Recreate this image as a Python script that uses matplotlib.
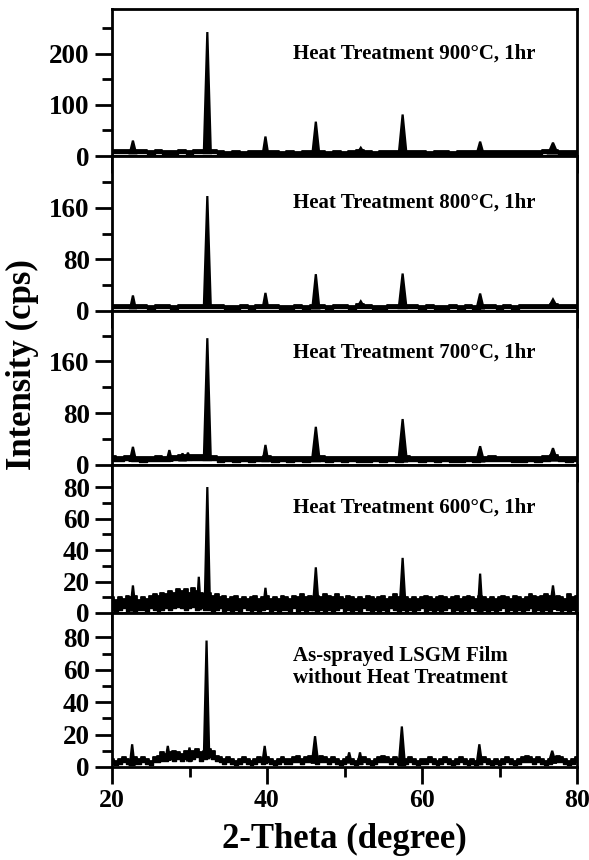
import numpy as np
import matplotlib
matplotlib.use("Agg")
import matplotlib.pyplot as plt
from matplotlib.ticker import FixedLocator, MultipleLocator

plt.rcParams['font.family'] = ['Liberation Serif', 'DejaVu Serif']
plt.rcParams['font.weight'] = 'bold'

# 2-theta grids for the background level
two_theta = np.arange(20, 81, 1)          # 1 degree steps (annealed films)
two_theta_fine = np.arange(20, 80.5, 0.5)  # 0.5 degree steps (noisy films)

labels = ["Heat Treatment 900°C, 1hr",
          "Heat Treatment 800°C, 1hr",
          "Heat Treatment 700°C, 1hr",
          "Heat Treatment 600°C, 1hr",
          "As-sprayed LSGM Film\nwithout Heat Treatment"]

# background band (upper / lower edge), cps
bg_hi_900 = [12, 11, 12, 11, 11, 10, 11, 10, 10, 11, 10, 12, 12, 11, 9, 8, 9, 8, 9, 9,
             10, 9, 8, 9, 8, 9, 9, 9, 8, 9, 8, 9, 11, 9, 8, 9, 9, 9, 10, 9,
             9, 8, 9, 9, 8, 9, 9, 9, 10, 9, 9, 9, 10, 9, 9, 10, 11, 12, 10, 9, 10]
bg_lo_900 = [5, 5, 6, 5, 5, 4, 5, 4, 4, 5, 4, 5, 6, 5, 3, 3, 3, 2, 3, 3,
             4, 3, 2, 3, 2, 3, 3, 3, 2, 3, 2, 3, 4, 3, 2, 3, 3, 3, 4, 3,
             3, 2, 3, 3, 2, 3, 3, 3, 4, 3, 3, 3, 4, 3, 3, 4, 5, 5, 4, 3, 4]

bg_hi_800 = [9, 10, 10, 9, 9, 8, 9, 9, 8, 9, 10, 10, 10, 10, 9, 8, 8, 9, 8, 9,
             10, 9, 8, 8, 9, 8, 9, 9, 8, 9, 9, 8, 11, 9, 8, 8, 9, 9, 10, 9,
             8, 9, 8, 8, 9, 8, 9, 8, 10, 9, 8, 9, 8, 9, 9, 10, 9, 11, 10, 9, 10]
bg_lo_800 = [4, 5, 5, 4, 4, 3, 4, 4, 3, 4, 5, 5, 5, 5, 4, 3, 3, 4, 3, 4,
             5, 4, 3, 3, 4, 3, 4, 4, 3, 4, 4, 3, 5, 4, 3, 3, 4, 4, 5, 4,
             3, 4, 3, 3, 4, 3, 4, 3, 5, 4, 3, 4, 3, 4, 4, 5, 4, 5, 5, 4, 5]

bg_hi_700 = [14, 13, 14, 13, 12, 13, 14, 13, 14, 15, 16, 15, 16, 14, 12, 13, 12, 13, 12, 13,
             14, 12, 13, 12, 13, 12, 13, 14, 12, 13, 12, 13, 12, 12, 13, 12, 13, 12, 14, 13,
             12, 13, 12, 13, 12, 12, 13, 12, 13, 14, 13, 13, 12, 12, 13, 12, 14, 15, 13, 12, 13]
bg_lo_700 = [6, 6, 7, 6, 5, 6, 6, 6, 7, 7, 8, 7, 8, 7, 5, 6, 5, 6, 5, 6,
             6, 5, 6, 5, 6, 5, 6, 6, 5, 6, 5, 6, 5, 5, 6, 5, 6, 5, 6, 6,
             5, 6, 5, 6, 5, 5, 6, 5, 6, 6, 6, 6, 5, 5, 6, 5, 6, 7, 6, 5, 6]

bg_hi_600 = [10, 8, 10, 9, 11, 10, 11, 8, 10, 9, 11, 12, 11, 13, 12, 14, 13, 15, 14, 15,
             13, 16, 14, 13, 12, 13, 11, 12, 10, 11, 9, 10, 11, 9, 10, 9, 10, 11, 9, 10,
             11, 9, 10, 9, 11, 10, 9, 11, 10, 12, 10, 11, 10, 11, 10, 12, 11, 10, 12, 10,
             9, 11, 10, 9, 10, 9, 11, 10, 9, 10, 11, 9, 10, 12, 10, 11, 10, 9, 10, 9,
             10, 11, 10, 9, 10, 11, 10, 9, 10, 11, 9, 10, 11, 10, 9, 11, 10, 9, 10, 9,
             10, 11, 10, 9, 11, 10, 9, 10, 12, 11, 10, 11, 12, 11, 10, 11, 10, 9, 12, 10, 11]
bg_lo_600 = [2, 1, 2, 3, 1, 2, 1, 2, 2, 1, 3, 2, 1, 2, 3, 2, 3, 4, 3, 2,
             3, 4, 2, 3, 2, 2, 1, 2, 3, 1, 2, 1, 2, 1, 3, 2, 1, 2, 1, 2,
             3, 1, 2, 1, 2, 2, 1, 3, 1, 2, 1, 2, 3, 1, 2, 1, 2, 1, 2, 3,
             1, 2, 1, 2, 1, 3, 2, 1, 2, 1, 2, 1, 3, 2, 1, 2, 1, 2, 1, 2,
             3, 1, 2, 1, 2, 1, 2, 3, 1, 2, 1, 2, 1, 3, 2, 1, 2, 1, 2, 1,
             2, 3, 1, 2, 1, 2, 1, 2, 3, 1, 2, 1, 2, 1, 3, 2, 1, 2, 1, 2, 1]

bg_hi_as = [5, 4, 5, 6, 5, 4, 6, 5, 6, 5, 4, 6, 7, 9, 8, 9, 10, 9, 8, 10,
            9, 10, 11, 9, 10, 11, 10, 7, 6, 5, 6, 5, 4, 5, 6, 5, 4, 5, 6, 5,
            6, 5, 4, 5, 6, 5, 5, 6, 7, 5, 6, 7, 6, 5, 7, 6, 5, 6, 5, 4,
            5, 6, 5, 4, 5, 6, 5, 4, 5, 6, 7, 6, 5, 6, 5, 4, 5, 6, 5, 4,
            5, 5, 6, 5, 4, 5, 6, 5, 4, 5, 6, 5, 4, 5, 4, 5, 6, 5, 4, 5,
            4, 5, 6, 5, 4, 5, 6, 7, 6, 5, 6, 5, 4, 5, 6, 7, 6, 5, 4, 5, 6]
bg_lo_as = [2, 1, 2, 3, 2, 1, 2, 2, 3, 2, 1, 3, 3, 4, 4, 5, 4, 5, 4, 5,
            4, 5, 6, 4, 5, 6, 5, 4, 3, 2, 3, 2, 1, 2, 3, 2, 1, 2, 3, 2,
            3, 2, 1, 2, 3, 2, 2, 3, 3, 2, 3, 3, 3, 2, 3, 3, 2, 3, 2, 1,
            2, 3, 2, 1, 2, 3, 2, 1, 2, 3, 3, 3, 2, 3, 2, 1, 2, 3, 2, 1,
            2, 2, 3, 2, 1, 2, 3, 2, 1, 2, 3, 2, 1, 2, 1, 2, 3, 2, 1, 2,
            1, 2, 3, 2, 1, 2, 3, 3, 3, 2, 3, 2, 1, 2, 3, 3, 3, 2, 1, 2, 3]

# reflections: position (deg), peak intensity (cps), half base width (deg)
pk_pos_900 = [22.7, 32.3, 39.8, 46.3, 52.1, 57.5, 67.5, 76.9]
pk_int_900 = [30, 242, 38, 67, 16, 81, 28, 26]
pk_w_900 = [0.4, 0.45, 0.35, 0.45, 0.5, 0.5, 0.45, 0.6]

pk_pos_800 = [22.7, 32.3, 39.8, 46.3, 52.1, 57.5, 67.5, 76.9]
pk_int_800 = [24, 178, 28, 57, 15, 58, 27, 18]
pk_w_800 = [0.35, 0.45, 0.35, 0.45, 0.5, 0.5, 0.45, 0.6]

pk_pos_700 = [22.7, 27.4, 29.1, 29.8, 32.3, 39.8, 46.3, 57.5, 67.5, 76.9]
pk_int_700 = [28, 23, 18, 19, 196, 31, 59, 71, 29, 26]
pk_w_700 = [0.4, 0.35, 0.35, 0.35, 0.45, 0.35, 0.5, 0.55, 0.5, 0.55]

pk_pos_600 = [22.7, 31.2, 32.3, 39.8, 46.3, 57.5, 67.5, 76.9]
pk_int_600 = [17.5, 23, 80, 16, 29, 35, 25, 17.5]
pk_w_600 = [0.35, 0.25, 0.35, 0.3, 0.4, 0.4, 0.3, 0.4]

pk_pos_as = [22.6, 27.2, 30.0, 32.2, 39.7, 46.2, 50.6, 52.0, 57.4, 67.4, 76.8]
pk_int_as = [14, 13, 12, 78, 13, 19, 9, 9, 25, 14, 10]
pk_w_as = [0.3, 0.3, 0.3, 0.35, 0.3, 0.4, 0.3, 0.3, 0.4, 0.35, 0.45]

panels = [
    (two_theta, bg_hi_900, bg_lo_900, pk_pos_900, pk_int_900, pk_w_900),
    (two_theta, bg_hi_800, bg_lo_800, pk_pos_800, pk_int_800, pk_w_800),
    (two_theta, bg_hi_700, bg_lo_700, pk_pos_700, pk_int_700, pk_w_700),
    (two_theta_fine, bg_hi_600, bg_lo_600, pk_pos_600, pk_int_600, pk_w_600),
    (two_theta_fine, bg_hi_as, bg_lo_as, pk_pos_as, pk_int_as, pk_w_as),
]

y_top = [287, 240, 238, 94, 95]
y_major = [[0, 100, 200], [0, 80, 160], [0, 80, 160],
           [0, 20, 40, 60, 80], [0, 20, 40, 60, 80]]
y_minor = [[50, 150, 250], [40, 120, 200], [40, 120, 200],
           [10, 30, 50, 70], [10, 30, 50, 70]]
text_y = [0.70, 0.70, 0.73, 0.71, 0.65]

fig, axes = plt.subplots(5, 1, figsize=(5.89, 8.60), dpi=100, sharex=True,
                         gridspec_kw=dict(hspace=0, height_ratios=[147, 155, 154, 148, 154]))
fig.subplots_adjust(left=112 / 589, right=577 / 589, top=1 - 9 / 860, bottom=1 - 767 / 860)

for i, ax in enumerate(axes):
    x, hi, lo, pos, inten, width = panels[i]
    ax.fill_between(x, lo, hi, color='black', lw=0, step='mid')
    ax.plot(x, hi, color='black', lw=1.3, drawstyle='steps-mid')
    ax.plot(x, lo, color='black', lw=1.0, drawstyle='steps-mid')
    for p, h, w in zip(pos, inten, width):
        b = np.interp(p, x, lo)
        ax.fill([p - w, p, p + w], [b, h, b], color='black', lw=1.6, closed=True)

    ax.set_xlim(20, 80)
    ax.set_ylim(0, y_top[i])
    ax.yaxis.set_major_locator(FixedLocator(y_major[i]))
    ax.yaxis.set_minor_locator(FixedLocator(y_minor[i]))
    ax.xaxis.set_major_locator(MultipleLocator(20))
    ax.xaxis.set_minor_locator(MultipleLocator(10))
    ax.tick_params(which='major', direction='out', length=12, width=2, labelsize=19.5, pad=4)
    ax.tick_params(which='minor', direction='out', length=7, width=2)
    ax.tick_params(axis='x', which='both', top=False, labelsize=18.5)
    ax.tick_params(axis='y', which='both', right=False)
    for s in ax.spines.values():
        s.set_linewidth(2)
    for lab in ax.get_yticklabels():
        lab.set_fontweight('bold')

    ax.text(0.39, text_y[i], labels[i], transform=ax.transAxes, ha='left', va='center',
            fontsize=15, fontweight='bold', linespacing=1.1)

    if i < 4:
        ax.tick_params(axis='x', labelbottom=False)

for lab in axes[-1].get_xticklabels():
    lab.set_fontweight('bold')

fig.text(22 / 589, 1 - 365 / 860, "Intensity (cps)", rotation=90, ha='center', va='center',
         fontsize=25, fontweight='bold')
axes[-1].set_xlabel("2-Theta (degree)", fontsize=25, fontweight='bold', labelpad=8)

fig.savefig("out.png", dpi=100)
